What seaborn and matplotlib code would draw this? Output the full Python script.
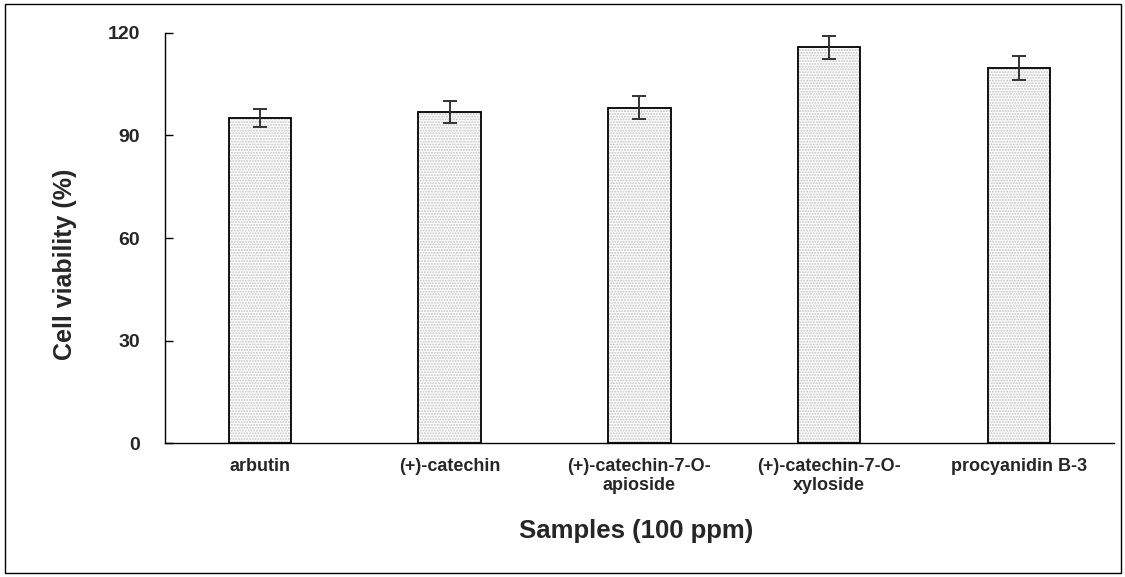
import matplotlib
matplotlib.use("Agg")
import matplotlib.pyplot as plt
import seaborn as sns
import pandas as pd
import numpy as np
from matplotlib.patches import Rectangle

categories = ["arbutin", "(+)-catechin", "(+)-catechin-7-O-\napioside",
              "(+)-catechin-7-O-\nxyloside", "procyanidin B-3"]
viability = [95.1, 96.8, 98.1, 115.8, 109.7]
errors = [2.6, 3.3, 3.3, 3.3, 3.5]
yticks = [0, 30, 60, 90, 120]

sns.set_theme(style="white")
plt.rcParams['font.family'] = ['Liberation Sans', 'DejaVu Sans']

df = pd.DataFrame({"sample": categories, "viability": viability})

fig = plt.figure(figsize=(11.25, 5.77), dpi=100)
ax = fig.add_axes([0.1467, 0.232, 0.8433, 0.711])

# dotted fill
sns.barplot(data=df, x="sample", y="viability", ax=ax, color="white",
            width=0.33, edgecolor="#c4c4c4", linewidth=0, hatch="......",
            errorbar=None)
# outline
sns.barplot(data=df, x="sample", y="viability", ax=ax, fill=False,
            width=0.33, edgecolor="black", linewidth=1.3, errorbar=None)

ax.errorbar(np.arange(len(categories)), viability, yerr=errors, fmt="none",
            ecolor="#333333", elinewidth=1.4, capsize=5, capthick=1.4)

ax.set_ylim(0, 120)
ax.set_xlim(-0.5, len(categories) - 0.5)
ax.set_yticks(yticks)
ax.set_yticklabels([str(v) for v in yticks], fontsize=14, fontweight="bold")
ax.set_xticks(range(len(categories)))
ax.set_xticklabels(categories, fontsize=13, fontweight="bold", linespacing=1.1)
ax.set_xticks(np.arange(len(categories)) + 0.5, minor=True)
ax.tick_params(axis="x", which="major", length=0, pad=11)
ax.tick_params(axis="x", which="minor", direction="in", length=6, width=1, color="black")
ax.tick_params(axis="y", which="major", direction="in", length=6, width=1, color="black", pad=18, left=True)

for s in ["top", "right"]:
    ax.spines[s].set_visible(False)
for s in ["left", "bottom"]:
    ax.spines[s].set_color("black")
    ax.spines[s].set_linewidth(1.0)

ax.set_ylabel("Cell viability (%)", fontsize=18, fontweight="bold", labelpad=22)
ax.set_xlabel("Samples (100 ppm)", fontsize=18.5, fontweight="bold", labelpad=18)
ax.yaxis.label.set_y(0.437)
ax.xaxis.label.set_x(0.497)

fig.patches.append(Rectangle((0.004, 0.007), 0.992, 0.986, transform=fig.transFigure,
                             fill=False, edgecolor="black", linewidth=1.0))

fig.savefig("out.png", dpi=100)
